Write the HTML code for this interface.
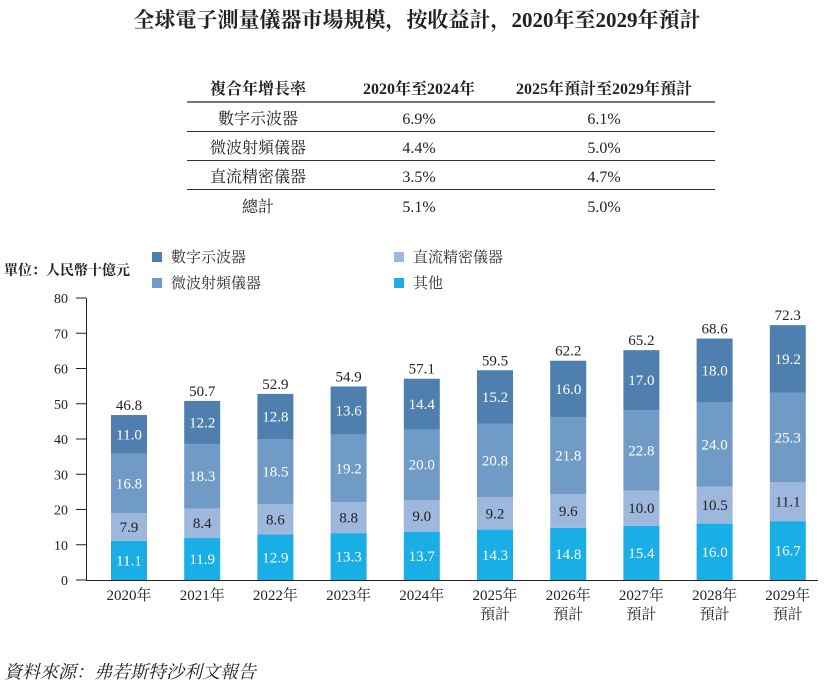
<!DOCTYPE html>
<html><head><meta charset="utf-8"><style>
body{margin:0;background:#fff;width:835px;height:688px;overflow:hidden;font-family:"Liberation Serif","Noto Serif CJK SC","Noto Sans CJK TC",serif;}
svg text{font-family:"Liberation Serif","Noto Serif CJK SC","Noto Sans CJK TC",serif;}
</style></head><body>
<svg id="s" width="835" height="688" xmlns="http://www.w3.org/2000/svg">
<text x="417" y="27" text-anchor="middle" font-size="21" font-weight="bold" fill="#222">全球電子測量儀器市場規模，按收益計，2020年至2029年預計</text>
<g font-size="16" fill="#222" text-anchor="middle">
<text x="258" y="94" font-weight="bold">複合年增長率</text>
<text x="419" y="94" font-weight="bold">2020年至2024年</text>
<text x="604" y="94" font-weight="bold">2025年預計至2029年預計</text>
<rect x="187" y="101" width="528" height="2" fill="#777"/>
<text x="258" y="124">數字示波器</text><text x="419" y="124">6.9%</text><text x="604" y="124">6.1%</text>
<rect x="187" y="131" width="528" height="1" fill="#333"/>
<text x="258" y="153">微波射頻儀器</text><text x="419" y="153">4.4%</text><text x="604" y="153">5.0%</text>
<rect x="187" y="160" width="528" height="1" fill="#333"/>
<text x="258" y="182">直流精密儀器</text><text x="419" y="182">3.5%</text><text x="604" y="182">4.7%</text>
<rect x="187" y="189" width="528" height="1" fill="#333"/>
<text x="258" y="212">總計</text><text x="419" y="212">5.1%</text><text x="604" y="212">5.0%</text>
</g>
<text x="4" y="275" font-size="14" font-weight="bold" fill="#222">單位：人民幣十億元</text>
<g font-size="15" fill="#333">
<rect x="152" y="252" width="10" height="10" fill="#4e7fae"/><text x="171" y="262">數字示波器</text>
<rect x="152" y="278" width="10" height="10" fill="#6f9bc6"/><text x="171" y="288">微波射頻儀器</text>
<rect x="394" y="252" width="10" height="10" fill="#9db8dc"/><text x="413" y="262">直流精密儀器</text>
<rect x="394" y="278" width="10" height="10" fill="#1aaee6"/><text x="413" y="288">其他</text>
</g>
<text x="4" y="678" font-size="18" font-style="italic" fill="#222">資料來源：弗若斯特沙利文報告</text>
<g id="c"></g>
</svg>
<script>
var d=[[11.1,7.9,16.8,11.0,"46.8"],[11.9,8.4,18.3,12.2,"50.7"],[12.9,8.6,18.5,12.8,"52.9"],[13.3,8.8,19.2,13.6,"54.9"],[13.7,9.0,20.0,14.4,"57.1"],[14.3,9.2,20.8,15.2,"59.5"],[14.8,9.6,21.8,16.0,"62.2"],[15.4,10.0,22.8,17.0,"65.2"],[16.0,10.5,24.0,18.0,"68.6"],[16.7,11.1,25.3,19.2,"72.3"]];
var col=["#1aaee6","#9db8dc","#6f9bc6","#4e7fae"],tc=["#fff","#222","#fff","#fff"];
var y0=580,k=3.525,h='';
h+='<rect x="86" y="298" width="1" height="283" fill="#222"/>';
for(var v=0;v<=80;v+=10){var y=y0-v*k;h+='<rect x="76" y="'+(y-0.5)+'" width="10" height="1" fill="#222"/><text x="68" y="'+(y+5)+'" font-size="14" text-anchor="end" fill="#222">'+v+'</text>';}
h+='<rect x="86" y="580" width="732" height="1" fill="#222"/>';
for(var i=0;i<10;i++){var cx=129+i*73.2,b=y0,r=d[i];
for(var j=0;j<4;j++){var hh=r[j]*k;h+='<rect x="'+(cx-18)+'" y="'+(b-hh)+'" width="36" height="'+hh+'" fill="'+col[j]+'"/>';
h+='<text x="'+cx+'" y="'+(b-hh/2+5)+'" font-size="15" text-anchor="middle" fill="'+tc[j]+'">'+r[j].toFixed(1)+'</text>';b-=hh;}
h+='<text x="'+cx+'" y="'+(b-5)+'" font-size="15" text-anchor="middle" fill="#222">'+r[4]+'</text>';
h+='<text x="'+cx+'" y="600" font-size="15" text-anchor="middle" fill="#222">'+(2020+i)+'年</text>';
if(i>=5)h+='<text x="'+cx+'" y="619" font-size="15" text-anchor="middle" fill="#222">預計</text>';}
document.getElementById('c').innerHTML=h;
</script>
</body></html>
